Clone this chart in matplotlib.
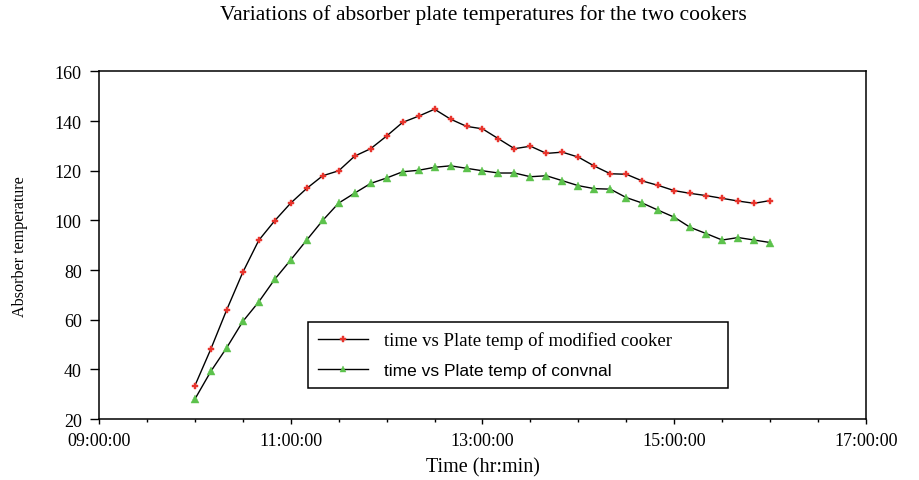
import matplotlib
matplotlib.use("Agg")
import matplotlib.pyplot as plt

times = ["10:00", "10:10", "10:20", "10:30", "10:40", "10:50",
         "11:00", "11:10", "11:20", "11:30", "11:40", "11:50",
         "12:00", "12:10", "12:20", "12:30", "12:40", "12:50",
         "13:00", "13:10", "13:20", "13:30", "13:40", "13:50",
         "14:00", "14:10", "14:20", "14:30", "14:40", "14:50",
         "15:00", "15:10", "15:20", "15:30", "15:40", "15:50", "16:00"]
modified = [33.4, 48.2, 64.1, 79.1, 92.0, 99.9, 107.0, 112.9, 118.0, 120.0,
            125.9, 128.9, 134.0, 139.5, 142.0, 144.8, 140.8, 137.9, 136.9,
            132.9, 128.9, 129.9, 127.0, 127.5, 125.5, 121.9, 118.8, 118.6,
            115.9, 114.1, 112.0, 110.9, 110.0, 108.9, 107.8, 106.9, 108.0]
conventional = [28.0, 39.2, 48.8, 59.3, 67.2, 76.3, 84.1, 92.1, 100.0, 107.0,
                111.0, 114.9, 117.1, 119.6, 120.2, 121.4, 122.0, 121.0, 120.0,
                119.1, 119.1, 117.6, 118.0, 116.0, 114.0, 112.8, 112.6, 109.2,
                107.0, 104.1, 101.3, 97.2, 94.7, 92.1, 93.1, 92.1, 91.1]
xtick_hours = [9, 11, 13, 15, 17]
xtick_labels = ["09:00:00", "11:00:00", "13:00:00", "15:00:00", "17:00:00"]
yticks = [20, 40, 60, 80, 100, 120, 140, 160]

# "HH:MM" -> decimal hours
hours = [int(t[:2]) + int(t[3:]) / 60 for t in times]

serif = "Liberation Serif"
sans = "Liberation Sans"

fig = plt.figure(figsize=(9.2, 4.81), dpi=100)
ax = fig.add_axes([0.1076, 0.1268, 0.8337, 0.7225])

ax.plot(hours, modified, color="black", lw=1.0, marker="P", ms=5,
        mfc="#e8342c", mec="#e8342c", mew=0.3,
        label="time vs Plate temp of modified cooker")
ax.plot(hours, conventional, color="black", lw=1.0, marker="^", ms=6,
        mfc="#5cc24c", mec="#5cc24c", mew=0.3,
        label="time vs Plate temp of convnal")

ax.set_xlim(9, 17)
ax.set_ylim(20, 160)
ax.set_xticks(xtick_hours)
ax.set_xticklabels(xtick_labels)
ax.set_xticks([h + 0.5 for h in range(9, 17)] + [h for h in range(10, 17, 2)], minor=True)
ax.set_yticks(yticks)
ax.tick_params(axis="y", which="major", direction="out", length=6.5, width=1,
               labelsize=13, pad=6)
ax.tick_params(axis="x", which="major", direction="out", length=3.5, width=1,
               labelsize=13, pad=6)
ax.tick_params(axis="x", which="minor", direction="out", length=2.2, width=1)
for lab in ax.get_xticklabels() + ax.get_yticklabels():
    lab.set_family(serif)
for sp in ax.spines.values():
    sp.set_linewidth(1.1)

ax.set_xlabel("Time (hr:min)", family=serif, fontsize=14.5, labelpad=6)
ax.set_ylabel("Absorber temperature", family=serif, fontsize=11.6, labelpad=19)
fig.text(0.525, 0.968, "Variations of absorber plate temperatures for the two cookers",
         family=serif, fontsize=15.5, ha="center", va="center")

leg = ax.legend(loc="lower left", bbox_to_anchor=(0.2725, 0.0892, 0.5476, 0.1928),
                mode="expand", borderaxespad=0, fancybox=False, edgecolor="black",
                framealpha=1, fontsize=12.5, handlelength=2.9, markerscale=0.75,
                labelspacing=0.82, borderpad=0.55, handletextpad=0.95)
leg.get_frame().set_linewidth(1.1)
texts = leg.get_texts()
texts[0].set_family(serif)
texts[0].set_fontsize(13.5)
texts[1].set_family(sans)
texts[1].set_fontsize(12.5)

fig.savefig("out.png", dpi=100)
